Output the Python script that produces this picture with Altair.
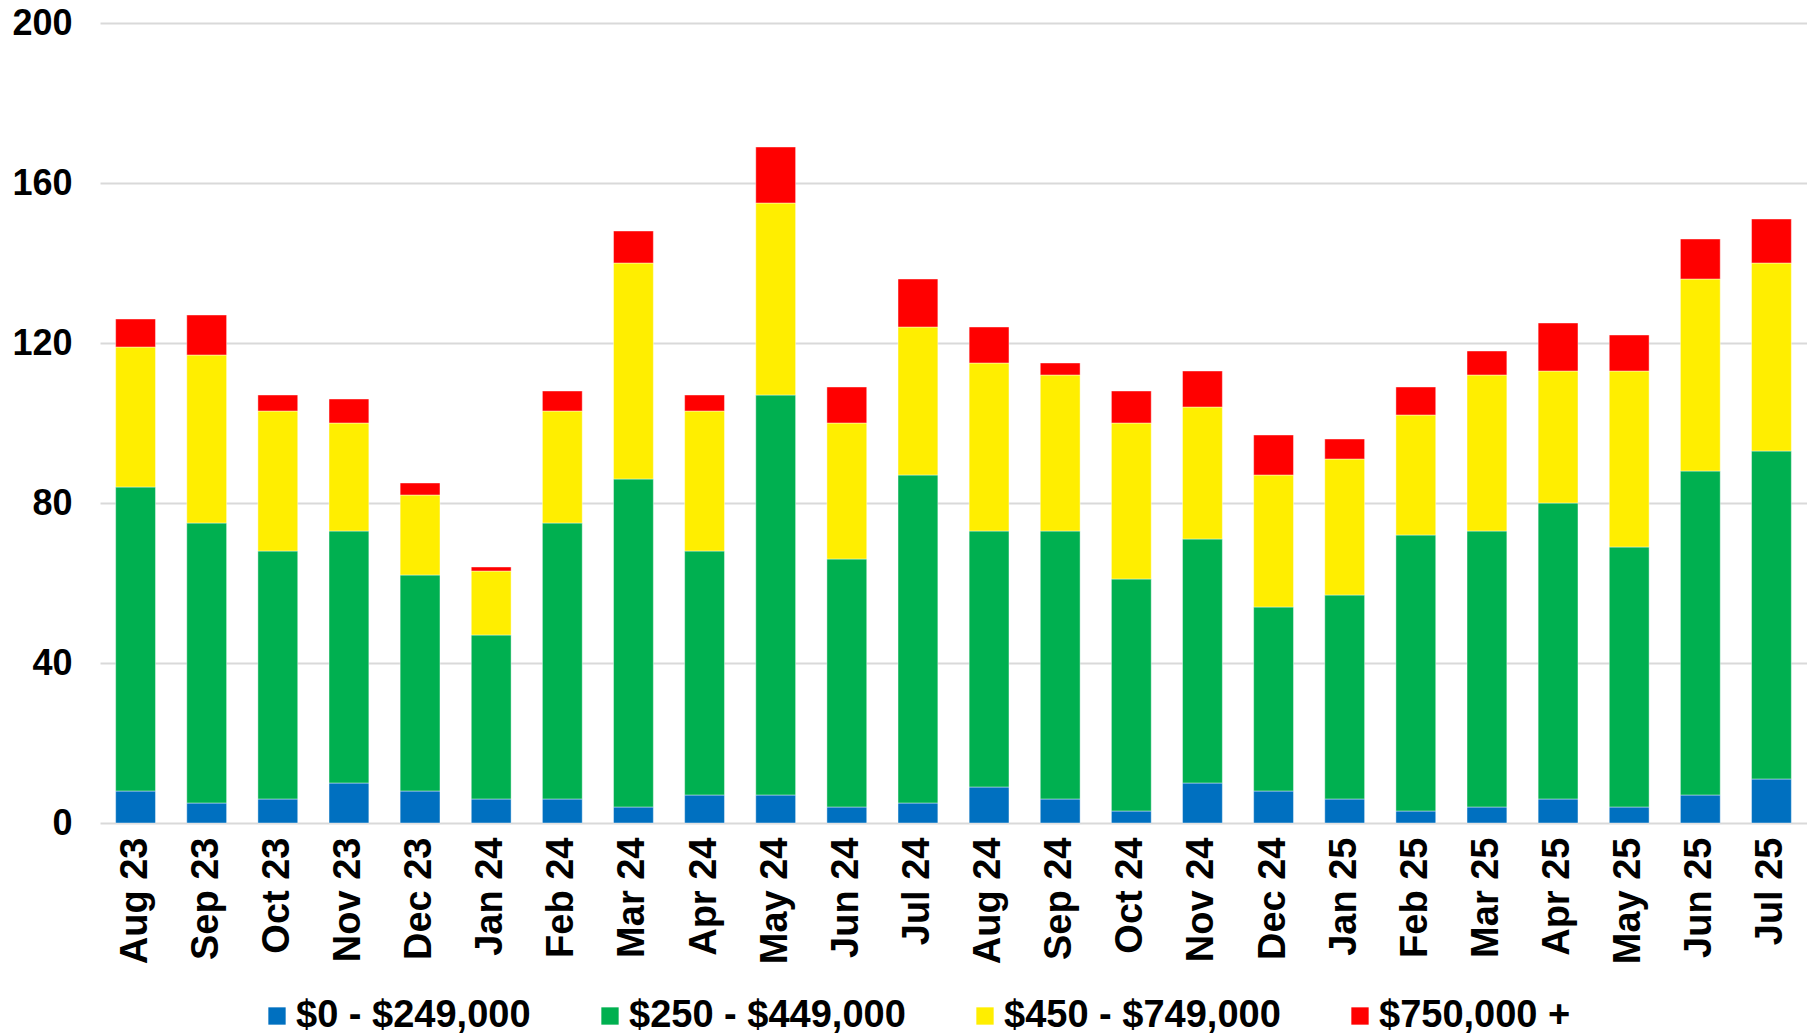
import altair as alt
import pandas as pd

months = ["Aug 23", "Sep 23", "Oct 23", "Nov 23", "Dec 23", "Jan 24", "Feb 24", "Mar 24",
          "Apr 24", "May 24", "Jun 24", "Jul 24", "Aug 24", "Sep 24", "Oct 24", "Nov 24",
          "Dec 24", "Jan 25", "Feb 25", "Mar 25", "Apr 25", "May 25", "Jun 25", "Jul 25"]

series = ["$0 - $249,000", "$250 - $449,000", "$450 - $749,000", "$750,000 +"]
colors = ["#0070C0", "#00B050", "#FFEE00", "#FF0000"]

band_0_249 = [8, 5, 6, 10, 8, 6, 6, 4, 7, 7, 4, 5, 9, 6, 3, 10, 8, 6, 3, 4, 6, 4, 7, 11]
band_250_449 = [76, 70, 62, 63, 54, 41, 69, 82, 61, 100, 62, 82, 64, 67, 58, 61, 46, 51, 69, 69, 74, 65, 81, 82]
band_450_749 = [35, 42, 35, 27, 20, 16, 28, 54, 35, 48, 34, 37, 42, 39, 39, 33, 33, 34, 30, 39, 33, 44, 48, 47]
band_750_plus = [7, 10, 4, 6, 3, 1, 5, 8, 4, 14, 9, 12, 9, 3, 8, 9, 10, 5, 7, 6, 12, 9, 10, 11]

y_ticks = [0, 40, 80, 120, 160, 200]

all_bands = [band_0_249, band_250_449, band_450_749, band_750_plus]
rows = []
for i, m in enumerate(months):
    for j, s in enumerate(series):
        rows.append({"month": m, "series": s, "value": all_bands[j][i], "order": j})
df = pd.DataFrame(rows)

FONT = "Liberation Sans"

chart = alt.Chart(df).mark_bar(stroke="white", strokeWidth=0.6, strokeOpacity=0.7).encode(
    x=alt.X("month:N", sort=months,
            scale=alt.Scale(paddingInner=0.44, paddingOuter=0.22),
            axis=alt.Axis(title=None, labelAngle=-90, labelFont=FONT, labelFontSize=38,
                          labelFontWeight="bold", labelColor="black", labelPadding=14,
                          ticks=False, domain=False)),
    y=alt.Y("value:Q", stack="zero",
            scale=alt.Scale(domain=[0, 200], nice=False),
            axis=alt.Axis(title=None, values=y_ticks, labelFont=FONT, labelFontSize=36,
                          labelFontWeight="bold", labelColor="black", labelPadding=28,
                          ticks=False, tickSize=0, domain=False, gridColor="#D9D9D9",
                          gridWidth=2)),
    color=alt.Color("series:N", sort=series,
                    scale=alt.Scale(domain=series, range=colors),
                    legend=alt.Legend(title=None, orient="none", direction="horizontal",
                                      columns=4, legendX=158, legendY=974, padding=0,
                                      symbolType="square", symbolSize=300,
                                      symbolStrokeWidth=0, labelFont=FONT, labelFontSize=38,
                                      labelFontWeight="bold", labelColor="black",
                                      labelOffset=0, columnPadding=60, labelLimit=0)),
    order=alt.Order("order:Q", sort="ascending"),
).properties(
    width=1707, height=800,
    autosize=alt.AutoSizeParams(type="none"),
    padding={"left": 92, "top": 15, "right": 0, "bottom": 211},
).configure_view(stroke=None)

chart.save("out.html", embed_options={"renderer": "svg", "actions": False})
